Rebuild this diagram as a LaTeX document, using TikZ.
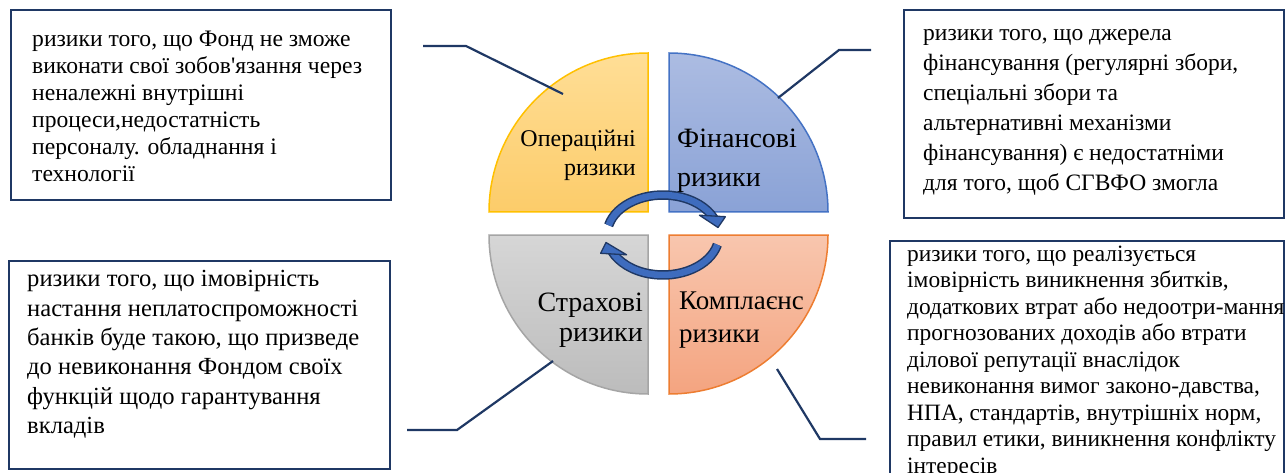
\documentclass[tikz,border=0pt]{standalone}
\usepackage{fontspec}
\setmainfont{Liberation Serif}[Ligatures=TeXOff]
\usepackage{xcolor}
\usepackage{tikz}
\usetikzlibrary{positioning, calc}
\definecolor{mynavy}{RGB}{31,56,100}
\definecolor{myarrow}{RGB}{62,108,190}
\definecolor{yellowtop}{RGB}{255,222,150}
\definecolor{yellowbot}{RGB}{252,204,106}
\definecolor{yellowline}{RGB}{255,192,0}
\definecolor{bluetop}{RGB}{172,188,226}
\definecolor{bluebot}{RGB}{138,162,214}
\definecolor{blueline}{RGB}{68,114,196}
\definecolor{graytop}{RGB}{214,214,214}
\definecolor{graybot}{RGB}{188,188,188}
\definecolor{grayline}{RGB}{165,165,165}
\definecolor{orangetop}{RGB}{248,198,174}
\definecolor{orangebot}{RGB}{244,164,128}
\definecolor{orangeline}{RGB}{237,125,49}
\tikzstyle{riskbox} = [rectangle, draw=mynavy, line width=2pt, fill=white, inner sep=0pt, anchor=south west]
\tikzstyle{risktext} = [inner sep=0pt, anchor=north west, align=left]
\tikzstyle{quadlabel} = [inner sep=0pt, text=black]
\tikzstyle{quadrant} = [line width=1.5pt]
\tikzstyle{leader} = [line width=2.2pt, draw=mynavy]
\tikzstyle{bandout} = [line width=9.5pt, draw=mynavy]
\tikzstyle{bandin} = [line width=6.5pt, draw=myarrow]
\tikzstyle{bandhead} = [fill=myarrow, draw=mynavy, line width=1.3pt, line join=round]
\newcommand{\topstrut}{\rule{0pt}{20pt}}

\begin{document}
\begin{tikzpicture}[x=1pt, y=1pt]
    \useasboundingbox (0,0) rectangle (1285,472);
    \clip (0,0) rectangle (1285,472);

    % four quadrants
    \draw [quadrant, draw=yellowline, top color=yellowtop, bottom color=yellowbot]
        (648,260) -- (489,260) arc[start angle=180, end angle=90, radius=159] -- cycle;
    \draw [quadrant, draw=blueline, top color=bluetop, bottom color=bluebot]
        (669,260) -- (669,419) arc[start angle=90, end angle=0, radius=159] -- cycle;
    \draw [quadrant, draw=grayline, top color=graytop, bottom color=graybot]
        (648,237) -- (489,237) arc[start angle=180, end angle=270, radius=159] -- cycle;
    \draw [quadrant, draw=orangeline, top color=orangetop, bottom color=orangebot]
        (669,237) -- (828,237) arc[start angle=0, end angle=-90, radius=159] -- cycle;

    \node (oplabel) [quadlabel, anchor=east, align=right, font=\fontsize{24}{29}\selectfont] at (636,317) {Операційні\\ризики};
    \node (finlabel) [quadlabel, anchor=west, align=left, font=\fontsize{28}{39}\selectfont] at (677,311) {Фінансові\\ризики};
    \node (inslabel) [quadlabel, anchor=east, align=right, font=\fontsize{28}{30}\selectfont] at (643,152) {Страхові\\ризики};
    \node (complabel) [quadlabel, anchor=west, align=left, font=\fontsize{27}{33}\selectfont] at (679,152) {Комплаєнс\\ризики};

    % circular arrows
    \coordinate (cyc) at (663,237);
    \draw [bandout] ($(cyc)+(166:56 and 40)$) arc[start angle=166, end angle=24, x radius=56, y radius=40];
    \draw [bandin] ($(cyc)+(166:56 and 40)$) arc[start angle=166, end angle=24, x radius=56, y radius=40];
    \filldraw [bandhead] (699.4,256.8) -- (725.4,255.3) -- (718,244.5) -- cycle;
    \draw [bandout] ($(cyc)+(-14:56 and 40)$) arc[start angle=-14, end angle=-156, x radius=56, y radius=40];
    \draw [bandin] ($(cyc)+(-14:56 and 40)$) arc[start angle=-14, end angle=-156, x radius=56, y radius=40];
    \filldraw [bandhead] (626.6,217.2) -- (600.6,218.7) -- (606,229.5) -- cycle;

    % text boxes
    \node (opbox) [riskbox, minimum width=380pt, minimum height=190pt] at (10,271) {};
    \node (finbox) [riskbox, minimum width=380pt, minimum height=208pt] at (903,253) {};
    \node (insbox) [riskbox, minimum width=381pt, minimum height=208pt] at (8,2) {};
    \node (compbox) [riskbox, minimum width=394pt, minimum height=262pt] at (889,-32) {};

    \node (optext) [risktext, font=\fontsize{23.6}{27}\selectfont] at (32,445.5)
        {\topstrut ризики того, що Фонд не зможе\\виконати свої зобов'язання через\\неналежні внутрішні\\процеси,недостатність\\персоналу. обладнання і\\технології};
    \node (fintext) [risktext, font=\fontsize{23.5}{30}\selectfont] at (923,452)
        {\topstrut ризики того, що джерела\\фінансування (регулярні збори,\\спеціальні збори та\\альтернативні механізми\\фінансування) є недостатніми\\для того, щоб СГВФО змогла};
    \node (instext) [risktext, font=\fontsize{24.6}{29.3}\selectfont] at (27,205.3)
        {\topstrut ризики того, що імовірність\\настання неплатоспроможності\\банків буде такою, що призведе\\до невиконання Фондом своїх\\функцій щодо гарантування\\вкладів};
    \node (comptext) [risktext, font=\fontsize{23.4}{26.5}\selectfont] at (907,231)
        {\topstrut ризики того, що реалізується\\імовірність виникнення збитків,\\додаткових втрат або недоотри-мання\\прогнозованих доходів або втрати\\ділової репутації внаслідок\\невиконання вимог законо-давства,\\НПА, стандартів, внутрішніх норм,\\правил етики, виникнення конфлікту\\інтересів};

    % leaders from boxes to quadrants
    \coordinate (opA) at (423,426);
    \coordinate (opB) at (466,426);
    \coordinate (opC) at (563,378);
    \draw [leader] (opA) -- (opB) -- (opC);
    \coordinate (finA) at (871,422);
    \coordinate (finB) at (839,422);
    \coordinate (finC) at (778,374);
    \draw [leader] (finA) -- (finB) -- (finC);
    \coordinate (insA) at (407,42);
    \coordinate (insB) at (457,42);
    \coordinate (insC) at (553,111);
    \draw [leader] (insA) -- (insB) -- (insC);
    \coordinate (compA) at (777,103);
    \coordinate (compB) at (820,33);
    \coordinate (compC) at (866,33);
    \draw [leader] (compA) -- (compB) -- (compC);
\end{tikzpicture}
\end{document}
